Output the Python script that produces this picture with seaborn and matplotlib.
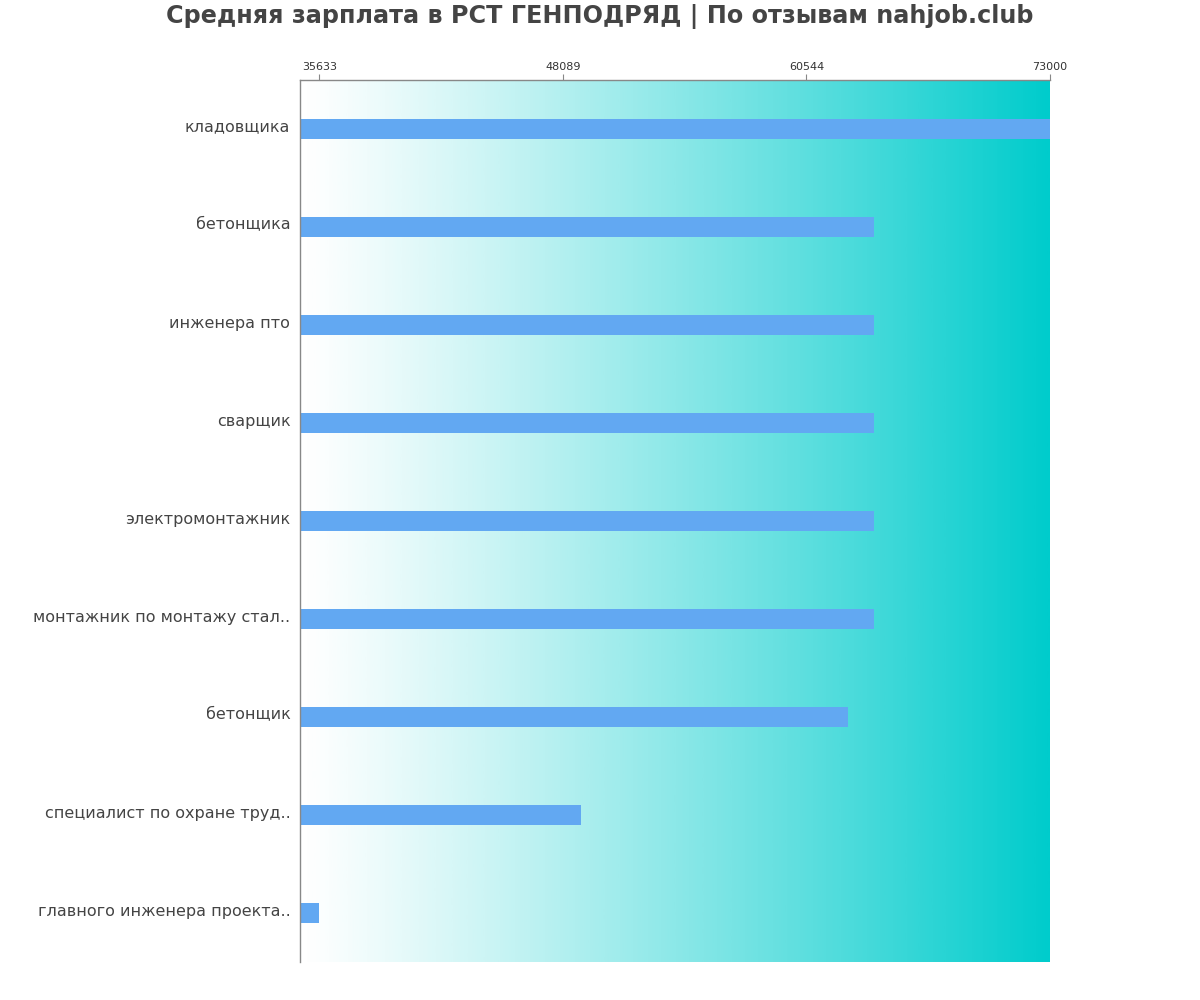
import numpy as np
import pandas as pd
import matplotlib
matplotlib.use("Agg")
import matplotlib.pyplot as plt
import matplotlib.transforms as mtransforms
from matplotlib.colors import LinearSegmentedColormap
import seaborn as sns

# данные
jobs = [
    "кладовщика",
    "бетонщика",
    "инженера пто",
    "сварщик",
    "электромонтажник",
    "монтажник по монтажу стал..",
    "бетонщик",
    "специалист по охране труд..",
    "главного инженера проекта..",
]
salary = [73000, 64000, 64000, 64000, 64000, 64000, 62667, 49000, 35633]
ticks = [35633, 48089, 60544, 73000]

df = pd.DataFrame({"job": jobs, "salary": salary})

sns.set_style("white")
plt.rcParams["font.family"] = ["DejaVu Sans"]

fig = plt.figure(figsize=(12, 10), dpi=100)
ax = fig.add_axes([0.25, 0.038, 0.625, 0.882])

xmin, xmax = 34640, 73000

# градиентный фон
grad = np.linspace(0, 1, 400) ** 1.15
cmap = LinearSegmentedColormap.from_list("bg", ["#ffffff", "#00cccc"])
ax.imshow(grad[np.newaxis, :], extent=[xmin, xmax, 8.5, -0.5], aspect="auto",
          cmap=cmap, zorder=0)

sns.barplot(data=df, x="salary", y="job", orient="h", color="#62a8f2",
            width=0.2, saturation=1, linewidth=0, ax=ax, zorder=2)

ax.set_xlim(xmin, xmax)
ax.set_ylim(8.5, -0.5)
ax.xaxis.tick_top()
ax.set_xticks(ticks)
ax.set_xticklabels([str(t) for t in ticks], fontsize=8, color="#333333")
ax.tick_params(axis="x", length=4, width=0.8, color="#888888", pad=2)
ax.tick_params(axis="y", length=0, pad=7, labelsize=11.5, labelcolor="#444444")
# подписи чуть выше центра полос
shift = mtransforms.ScaledTranslation(0, 2.5 / 72, fig.dpi_scale_trans)
for lbl in ax.get_yticklabels():
    lbl.set_transform(lbl.get_transform() + shift)
ax.set_xlabel("")
ax.set_ylabel("")

for s in ["right", "bottom"]:
    ax.spines[s].set_visible(False)
for s in ["left", "top"]:
    ax.spines[s].set_color("#888888")
    ax.spines[s].set_linewidth(1)

fig.suptitle("Средняя зарплата в РСТ ГЕНПОДРЯД | По отзывам nahjob.club",
             fontsize=17.2, fontweight="bold", color="#444444", y=0.996)

fig.savefig("out.png", dpi=100)
